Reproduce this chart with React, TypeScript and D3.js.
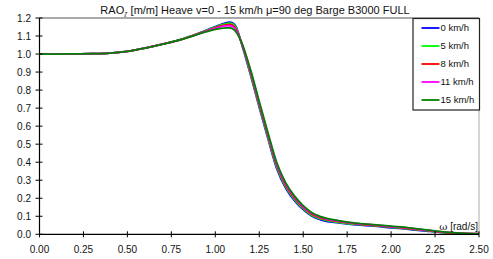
import React from "react";
import * as d3 from "d3";

const omega = [0, 0.1, 0.2, 0.3, 0.4, 0.5, 0.6, 0.7, 0.8, 0.9, 0.95, 1.0, 1.03, 1.06, 1.08, 1.1, 1.12, 1.15, 1.2, 1.25, 1.3, 1.35, 1.4, 1.45, 1.5, 1.55, 1.6, 1.7, 1.8, 1.9, 2.0, 2.1, 2.2, 2.3, 2.4, 2.5];

const v0 = [1.0, 1.0, 1.001, 1.002, 1.005, 1.015, 1.033, 1.055, 1.08, 1.114, 1.133, 1.152, 1.164, 1.173, 1.177, 1.172, 1.148, 1.055, 0.885, 0.703, 0.528, 0.363, 0.257, 0.187, 0.137, 0.1, 0.08, 0.063, 0.052, 0.045, 0.036, 0.028, 0.018, 0.009, 0.004, 0.002];
const v5 = [1.0, 1.0, 1.001, 1.002, 1.005, 1.015, 1.033, 1.055, 1.08, 1.113, 1.131, 1.149, 1.16, 1.168, 1.171, 1.166, 1.142, 1.058, 0.892, 0.712, 0.537, 0.372, 0.265, 0.194, 0.143, 0.105, 0.085, 0.066, 0.055, 0.048, 0.039, 0.03, 0.02, 0.01, 0.005, 0.002];
const v8 = [1.0, 1.0, 1.001, 1.002, 1.005, 1.015, 1.033, 1.055, 1.079, 1.112, 1.129, 1.146, 1.155, 1.162, 1.164, 1.158, 1.135, 1.06, 0.9, 0.72, 0.545, 0.38, 0.272, 0.2, 0.148, 0.11, 0.09, 0.07, 0.058, 0.05, 0.041, 0.032, 0.022, 0.011, 0.005, 0.003];
const v11 = [1.0, 1.0, 1.001, 1.002, 1.005, 1.015, 1.033, 1.055, 1.079, 1.111, 1.127, 1.143, 1.151, 1.156, 1.157, 1.151, 1.129, 1.062, 0.907, 0.728, 0.553, 0.388, 0.279, 0.206, 0.153, 0.115, 0.094, 0.073, 0.06, 0.052, 0.043, 0.034, 0.023, 0.012, 0.006, 0.003];
const v15 = [1.0, 1.0, 1.001, 1.002, 1.005, 1.015, 1.033, 1.055, 1.078, 1.109, 1.124, 1.137, 1.142, 1.145, 1.145, 1.139, 1.12, 1.064, 0.915, 0.737, 0.562, 0.397, 0.287, 0.213, 0.159, 0.12, 0.098, 0.076, 0.062, 0.054, 0.045, 0.036, 0.025, 0.013, 0.006, 0.003];

const seriesNames = ["0 km/h", "5 km/h", "8 km/h", "11 km/h", "15 km/h"];
const seriesValues = [v0, v5, v8, v11, v15];
const seriesColors = ["#0000ff", "#00ff00", "#ff0000", "#ff00ff", "#008000"];

const xTicks = [0, 0.25, 0.5, 0.75, 1.0, 1.25, 1.5, 1.75, 2.0, 2.25, 2.5];
const yTicks = [0, 0.1, 0.2, 0.3, 0.4, 0.5, 0.6, 0.7, 0.8, 0.9, 1.0, 1.1, 1.2];

export default function App() {
  const W = 493, H = 259;
  const x = d3.scaleLinear().domain([0, 2.5]).range([39.5, 479]);
  const y = d3.scaleLinear().domain([0, 1.2]).range([234.3, 18]);
  const line = d3
    .line<number>()
    .x((_, i) => x(omega[i]))
    .y((d) => y(d))
    .curve(d3.curveMonotoneX);
  const font = "Liberation Sans, Arial, sans-serif";
  return (
    <svg width={W} height={H} style={{ position: "absolute", left: 0, top: 0, background: "#fff" }} fontFamily={font}>
      <rect x={0} y={0} width={W} height={H} fill="#fff" />
      <text x={255} y={13.5} fontSize={11} textAnchor="middle" fill="#111">
        RAO<tspan fontSize={7.5} dy={3}>ζ</tspan>
        <tspan dy={-3}> [m/m] Heave v=0 - 15 km/h </tspan>μ=90 deg Barge B3000 FULL
      </text>
      {/* frame */}
      <line x1={x(0)} x2={x(2.5)} y1={18} y2={18} stroke="#aaa" strokeWidth={2} />
      <line x1={x(2.5)} x2={x(2.5)} y1={18} y2={y(0)} stroke="#aaa" strokeWidth={1} />
      {/* series */}
      {seriesValues.map((vals, i) => (
        <path key={i} d={line(vals) || ""} fill="none" stroke={seriesColors[i]} strokeWidth={1.8} />
      ))}
      {/* axes */}
      <line x1={x(0)} x2={x(0)} y1={18} y2={y(0)} stroke="#000" strokeWidth={1.2} />
      <line x1={x(0)} x2={x(2.5)} y1={y(0)} y2={y(0)} stroke="#000" strokeWidth={1.2} />
      {yTicks.map((t) => (
        <g key={"y" + t}>
          <line x1={x(0) - 4} x2={x(0) + 3} y1={y(t)} y2={y(t)} stroke="#000" strokeWidth={1} />
          <text x={31} y={y(t) + 3.5} fontSize={10} textAnchor="end" fill="#111">
            {t.toFixed(1)}
          </text>
        </g>
      ))}
      {xTicks.map((t) => (
        <g key={"x" + t}>
          <line x1={x(t)} x2={x(t)} y1={y(0) - 3} y2={y(0) + 3} stroke="#000" strokeWidth={1} />
          <text x={x(t)} y={253} fontSize={10} textAnchor="middle" fill="#111">
            {t.toFixed(2)}
          </text>
        </g>
      ))}
      <text x={478} y={230} fontSize={10} textAnchor="end" fill="#111">
        <tspan fontFamily="DejaVu Serif, serif">ω</tspan> [rad/s]
      </text>
      {/* legend */}
      <rect x={413} y={18.5} width={66.5} height={91.5} fill="#fff" stroke="#222" strokeWidth={1.2} />
      {seriesNames.map((n, i) => (
        <g key={n}>
          <line x1={421.5} x2={439.5} y1={28 + i * 18} y2={28 + i * 18} stroke={seriesColors[i]} strokeWidth={1.8} />
          <text x={440.5} y={31.3 + i * 18} fontSize={9.5} fill="#111">
            {n}
          </text>
        </g>
      ))}
    </svg>
  );
}
